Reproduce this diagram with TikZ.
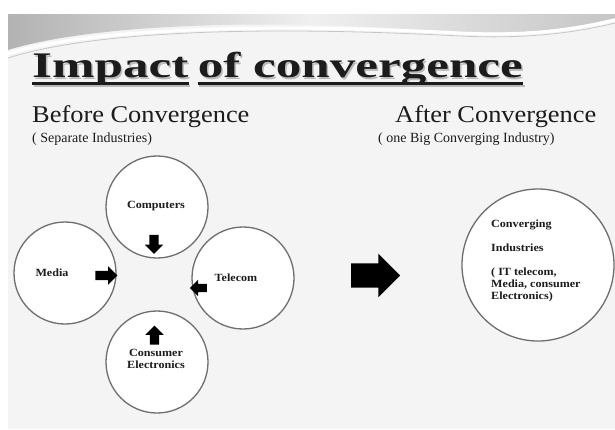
\documentclass[tikz,border=0pt]{standalone}
\usepackage{fontspec}
\setmainfont{Liberation Serif}
\newfontfamily\ttlfont[FakeStretch=1.42]{Liberation Serif}
\newfontfamily\bodyfont[FakeStretch=1.1]{Liberation Serif}
\usetikzlibrary{shapes.arrows}
\definecolor{slidebg}{HTML}{F4F4F4}
\definecolor{inkc}{HTML}{1C1C1C}
\definecolor{rimc}{HTML}{6E6E6E}
\newcommand{\shadowed}[1]{\makebox[0pt][l]{\hspace{1.5pt}\raisebox{-2pt}{\textcolor{gray!55}{#1}}}#1}
\tikzset{
  bubble/.style={circle, draw=rimc, line width=1.3pt, fill=white, inner sep=0pt, minimum size=102pt},
  lbl/.style={inner sep=0pt, text=inkc, font=\bodyfont\bfseries\fontsize{11}{11.5}\selectfont, align=center},
  smallarr/.style={single arrow, fill=black, draw=none, inner sep=4.5pt, single arrow head extend=4.5pt, minimum height=19pt},
  ttl/.style={inner sep=0pt, anchor=base west, text=inkc, font=\ttlfont\bfseries\fontsize{36}{40}\selectfont},
  uline/.style={line width=2.6pt}
}
\begin{document}
\begin{tikzpicture}[x=1pt,y=-1pt]
\useasboundingbox (0,0) rectangle (615,429);
\fill[white] (0,0) rectangle (615,429);
\fill[slidebg] (8,14) rectangle (615,429);
\shade[left color=gray!60, right color=gray!45, middle color=gray!12] (8,14) -- (615,14) -- (615,18) .. controls (540,36) and (490,34) .. (420,30) .. controls (280,20) and (100,22) .. (8,50) -- cycle;
\draw[white, line width=3pt] (8,54) .. controls (80,30) and (250,22) .. (460,33) .. controls (540,37) and (590,26) .. (615,20);
\draw[gray!45, line width=0.8pt] (8,58) .. controls (90,32) and (250,25) .. (460,36) .. controls (540,40) and (590,29) .. (615,23);
\node[ttl] (ttlA) at (32,77){\shadowed{Impact}};
\node[ttl] (ttlB) at ([xshift=9pt]ttlA.base east) {\shadowed{of convergence}};
\draw[uline, gray!55] ([xshift=1.5pt,yshift=-9pt]ttlA.base west) -- ([xshift=1.5pt,yshift=-9pt]ttlA.base east);
\draw[uline, gray!55] ([xshift=1.5pt,yshift=-9pt]ttlB.base west) -- ([xshift=1.5pt,yshift=-9pt]ttlB.base east);
\draw[uline, inkc] ([yshift=-6.5pt]ttlA.base west) -- ([yshift=-6.5pt]ttlA.base east);
\draw[uline, inkc] ([yshift=-6.5pt]ttlB.base west) -- ([yshift=-6.5pt]ttlB.base east);
\node[inner sep=0pt, anchor=base west, text=inkc, font=\bodyfont\fontsize{24}{28}\selectfont] (before) at (32,122){Before Convergence};
\node[inner sep=0pt, anchor=base west, text=inkc, font=\fontsize{14}{16}\selectfont] (beforesub) at (32,142){( Separate Industries)};
\node[inner sep=0pt, anchor=base west, text=inkc, font=\bodyfont\fontsize{24}{28}\selectfont] (after) at (395,122){After Convergence};
\node[inner sep=0pt, anchor=base west, text=inkc, font=\fontsize{14}{16}\selectfont] (aftersub) at (378,142){( one Big Converging Industry)};
\node[bubble] (comp) at (157,207){};
\node[bubble] (media) at (65,273){};
\node[bubble] (tele) at (243,278){};
\node[bubble] (cons) at (157,362){};
\node[bubble, minimum size=152pt] (conv) at (538,265){};
\node[lbl] (compt) at (156,206){Computers};
\node[lbl] (mediat) at (52,273){Media};
\node[lbl] (telet) at (236,278){Telecom};
\node[lbl] (const) at (156,359){Consumer\\Electronics};
\node[lbl, anchor=north west, align=left, font=\bodyfont\bfseries\fontsize{11}{12}\selectfont] (convt) at (491,220){Converging\\[12pt]Industries\\[12pt]( IT telecom,\\Media, consumer\\Electronics)};
\node[smallarr, shape border rotate=270] (comparr) at (154,242){};
\node[smallarr, minimum height=22pt] (mediaarr) at (104,275.5){};
\node[smallarr, shape border rotate=180, minimum height=17pt, inner sep=4pt, single arrow head extend=4pt] (telearr) at (200.5,288){};
\node[smallarr, shape border rotate=90] (consarr) at (154.5,337.5){};
\node[single arrow, fill=black, draw=none, inner sep=12pt, single arrow head extend=9.5pt, minimum height=49pt] (bigarr) at (369.5,275.5){};
\end{tikzpicture}
\end{document}
